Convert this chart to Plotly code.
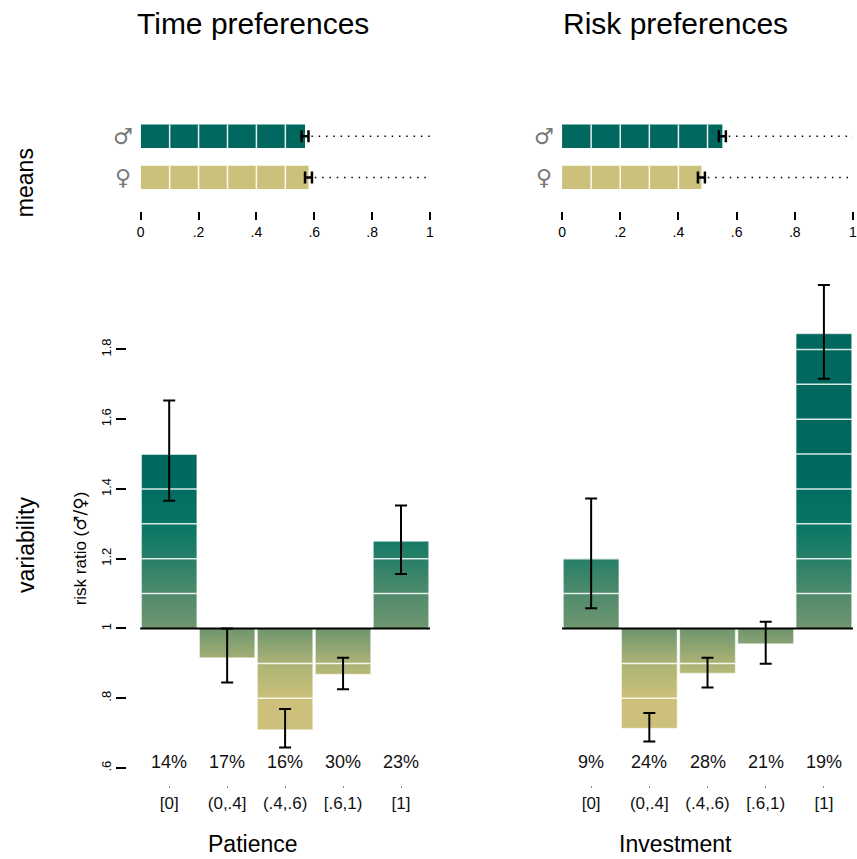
import plotly.graph_objects as go

W, H = 857, 859

# ---------------- data ----------------
panel_titles = ["Time preferences", "Risk preferences"]
measures = ["Patience", "Investment"]
categories = ["[0]", "(0,.4]", "(.4,.6)", "[.6,1)", "[1]"]
shares_time = ["14%", "17%", "16%", "30%", "23%"]
shares_risk = ["9%", "24%", "28%", "21%", "19%"]

ratio_time = [1.50, 0.916, 0.710, 0.869, 1.25]
ratio_time_hi = [1.654, 1.0, 0.769, 0.916, 1.353]
ratio_time_lo = [1.366, 0.845, 0.659, 0.826, 1.156]

ratio_risk = [1.202, 0.714, 0.872, 0.956, 1.845]
ratio_risk_hi = [1.373, 0.758, 0.916, 1.019, 1.985]
ratio_risk_lo = [1.058, 0.676, 0.831, 0.899, 1.716]

genders = ["♂", "♀"]
mean_time = [0.568, 0.580]
mean_risk = [0.551, 0.479]
mean_err = [0.012, 0.012]

yticks_bottom = [0.6, 0.8, 1.0, 1.2, 1.4, 1.6, 1.8]
yticklabels_bottom = [".6", ".8", "1", "1.2", "1.4", "1.6", "1.8"]
xticks_top = [0, 0.2, 0.4, 0.6, 0.8, 1.0]
xticklabels_top = ["0", ".2", ".4", ".6", ".8", "1"]

# ---------------- style ----------------
FONT = "Liberation Sans, Arial, Helvetica, sans-serif"
TEAL = "rgb(0,104,94)"
KHAKI = "rgb(204,193,122)"
Y0, Y1 = 0.6, 2.0


def cs_point(v, rgb):
    return [(v - Y0) / (Y1 - Y0), "rgb(%d,%d,%d)" % rgb]


gradient = [
    cs_point(0.6, (204, 193, 122)),
    cs_point(0.8, (204, 192, 122)),
    cs_point(0.9, (174, 180, 117)),
    cs_point(1.0, (112, 150, 111)),
    cs_point(1.1, (80, 139, 108)),
    cs_point(1.2, (40, 127, 104)),
    cs_point(1.3, (6, 118, 100)),
    cs_point(1.45, (0, 105, 95)),
    cs_point(2.0, (0, 103, 94)),
]

fig = go.Figure()

# ---------------- top panels (means) ----------------
bar_h = 0.57
gender_y = [1, 0]
gender_col = [TEAL, KHAKI]
for p, means in enumerate([mean_time, mean_risk]):
    xa = "x" if p == 0 else "x2"
    ya = "y" if p == 0 else "y2"
    fig.add_trace(go.Bar(
        x=means, y=gender_y, orientation="h", width=bar_h,
        marker=dict(color=gender_col, line=dict(width=0)),
        xaxis=xa, yaxis=ya, showlegend=False, hoverinfo="skip"))
    # white separators every 0.1
    sx, sy = [], []
    for m, yc in zip(means, gender_y):
        k = 1
        while k / 10 < m - 0.005:
            sx += [k / 10, k / 10, None]
            sy += [yc - bar_h / 2, yc + bar_h / 2, None]
            k += 1
    fig.add_trace(go.Scatter(
        x=sx, y=sy, mode="lines", line=dict(color="rgba(255,255,255,0.9)", width=1.5),
        xaxis=xa, yaxis=ya, showlegend=False, hoverinfo="skip"))
    # dotted guide lines
    for m, e, yc in zip(means, mean_err, gender_y):
        fig.add_trace(go.Scatter(
            x=[m + e + 0.01, 1.0], y=[yc, yc], mode="lines",
            line=dict(color="black", width=1.5, dash="1.5px,5.8px"),
            xaxis=xa, yaxis=ya, showlegend=False, hoverinfo="skip"))
    # error bars (H)
    fig.add_trace(go.Scatter(
        x=means, y=gender_y, mode="markers", marker=dict(size=0.1, color="black"),
        error_x=dict(type="data", array=mean_err, color="black", thickness=2.5, width=6),
        xaxis=xa, yaxis=ya, showlegend=False, hoverinfo="skip"))

# ---------------- bottom panels (variability) ----------------
bw = 0.955
for p, (vals, hi, lo) in enumerate([(ratio_time, ratio_time_hi, ratio_time_lo),
                                    (ratio_risk, ratio_risk_hi, ratio_risk_lo)]):
    xa = "x3" if p == 0 else "x4"
    ya = "y3" if p == 0 else "y4"
    for i, v in enumerate(vals):
        fig.add_trace(go.Scatter(
            x=[i - bw / 2, i - bw / 2, i + bw / 2, i + bw / 2, i - bw / 2],
            y=[1, v, v, 1, 1], mode="lines", fill="toself",
            fillgradient=dict(type="vertical", colorscale=gradient, start=Y0, stop=Y1),
            line=dict(color="rgba(255,255,255,0.45)", width=1),
            xaxis=xa, yaxis=ya, showlegend=False, hoverinfo="skip"))
    # white lines every 0.1
    gx, gy = [], []
    for i, v in enumerate(vals):
        n = int(abs(v - 1) * 10 + 1e-6)
        sgn = 1 if v > 1 else -1
        for k in range(1, n + 1):
            lev = 1 + sgn * k / 10
            gx += [i - bw / 2, i + bw / 2, None]
            gy += [lev, lev, None]
    fig.add_trace(go.Scatter(
        x=gx, y=gy, mode="lines", line=dict(color="rgba(255,255,255,0.85)", width=1.5),
        xaxis=xa, yaxis=ya, showlegend=False, hoverinfo="skip"))
    # error bars
    fig.add_trace(go.Scatter(
        x=list(range(len(vals))), y=vals, mode="markers",
        marker=dict(size=0.1, color="black"),
        error_y=dict(type="data", symmetric=False,
                     array=[h - v for h, v in zip(hi, vals)],
                     arrayminus=[v - l for l, v in zip(lo, vals)],
                     color="black", thickness=2, width=6),
        xaxis=xa, yaxis=ya, showlegend=False, hoverinfo="skip"))

# ---------------- layout ----------------
def px_x(v):
    return v / W


def px_y(v):
    return 1 - v / H


top_dom = [px_y(212), px_y(115)]
bot_dom = [px_y(770.7), px_y(280.7)]
left_dom = [px_x(138), px_x(430)]
right_dom = [px_x(563.3), 1.0]
bleft_dom = [px_x(137.5), px_x(430)]

top_x_common = dict(range=[0, 1], tickvals=xticks_top, ticktext=xticklabels_top,
                    ticks="outside", ticklen=8, tickwidth=1.5, tickcolor="black",
                    showline=False, showgrid=False, zeroline=False,
                    ticklabeloverflow="allow",
                    tickfont=dict(size=14, color="black", family=FONT), fixedrange=True)
top_y_common = dict(range=[-(212 - 178) / 41.3, 1 + (136.7 - 115) / 41.3],
                    visible=False, showgrid=False, zeroline=False)
bot_x_common = dict(range=[-0.5, 4.5], tickvals=[0, 1, 2, 3, 4], ticktext=categories,
                    ticks="outside", ticklen=2, tickwidth=1, tickcolor="#888",
                    showline=False, showgrid=False, zeroline=False,
                    tickfont=dict(size=17, color="#111", family=FONT),
                    anchor="free", position=px_y(788))

fig.update_layout(
    width=W, height=H,
    margin=dict(l=0, r=0, t=0, b=0),
    paper_bgcolor="white", plot_bgcolor="rgba(0,0,0,0)",
    font=dict(family=FONT, color="black"),
    showlegend=False,
    xaxis=dict(domain=left_dom, anchor="y", **top_x_common),
    yaxis=dict(domain=top_dom, anchor="x", **top_y_common),
    xaxis2=dict(domain=right_dom, anchor="y2", **top_x_common),
    yaxis2=dict(domain=top_dom, anchor="x2", **top_y_common),
    xaxis3=dict(domain=bleft_dom, **bot_x_common),
    yaxis3=dict(domain=bot_dom, range=[Y0, Y1], anchor="free", position=px_x(123),
                tickvals=yticks_bottom, ticktext=yticklabels_bottom, tickangle=-90,
                ticks="outside", ticklen=10, tickwidth=2, tickcolor="black",
                showline=False, showgrid=False, zeroline=False,
                tickfont=dict(size=13, color="black", family=FONT)),
    xaxis4=dict(domain=right_dom, **bot_x_common),
    yaxis4=dict(domain=bot_dom, range=[Y0, Y1], anchor="x4", visible=False,
                showgrid=False, zeroline=False),
)

# baselines at ratio 1
for xr, yr in [("x3", "y3"), ("x4", "y4")]:
    fig.add_shape(type="line", xref=xr + " domain", yref=yr, x0=0, x1=1, y0=1, y1=1,
                  line=dict(color="black", width=2), layer="above")

ann = []
# titles
for t, cx in zip(panel_titles, [251.7, 678]):
    ann.append(dict(text=t, x=px_x(cx), y=px_y(24), xref="paper", yref="paper",
                    showarrow=False, xanchor="center", yanchor="middle",
                    font=dict(size=30, color="black")))
# measure labels
for t, cx in zip(measures, [251.7, 677.5]):
    ann.append(dict(text=t, x=px_x(cx), y=px_y(847), xref="paper", yref="paper",
                    showarrow=False, xanchor="center", yanchor="middle",
                    font=dict(size=23, color="black")))
# row labels
ann.append(dict(text="means", x=px_x(22), y=px_y(183), xref="paper", yref="paper",
                textangle=-90, showarrow=False, xanchor="center", yanchor="middle",
                font=dict(size=23, color="black")))
ann.append(dict(text="variability", x=px_x(22), y=px_y(547), xref="paper", yref="paper",
                textangle=-90, showarrow=False, xanchor="center", yanchor="middle",
                font=dict(size=23, color="black")))
ann.append(dict(text="risk ratio (<span style='font-family:DejaVu Sans'>♂/♀</span>)",
                x=px_x(77), y=px_y(550), xref="paper",
                yref="paper", textangle=-90, showarrow=False, xanchor="center",
                yanchor="middle", font=dict(size=17, color="black")))
# gender symbols
for gx in [120, 545]:
    for g, gy in zip(genders, [136.7, 178]):
        ann.append(dict(text=g, x=px_x(gx), y=px_y(gy), xref="paper", yref="paper",
                        showarrow=False, xanchor="center", yanchor="middle",
                        font=dict(size=22, color="#777", family="DejaVu Sans")))
# shares
for xr, shares in [("x3", shares_time), ("x4", shares_risk)]:
    for i, s in enumerate(shares):
        ann.append(dict(text=s, x=i, xref=xr, y=px_y(765), yref="paper",
                        showarrow=False, xanchor="center", yanchor="middle",
                        font=dict(size=18, color="#111")))
fig.update_layout(annotations=ann)

fig.write_html("out.html",
               config={"displayModeBar": False},
               post_script="document.body.style.margin='0';document.body.style.overflow='hidden';")
